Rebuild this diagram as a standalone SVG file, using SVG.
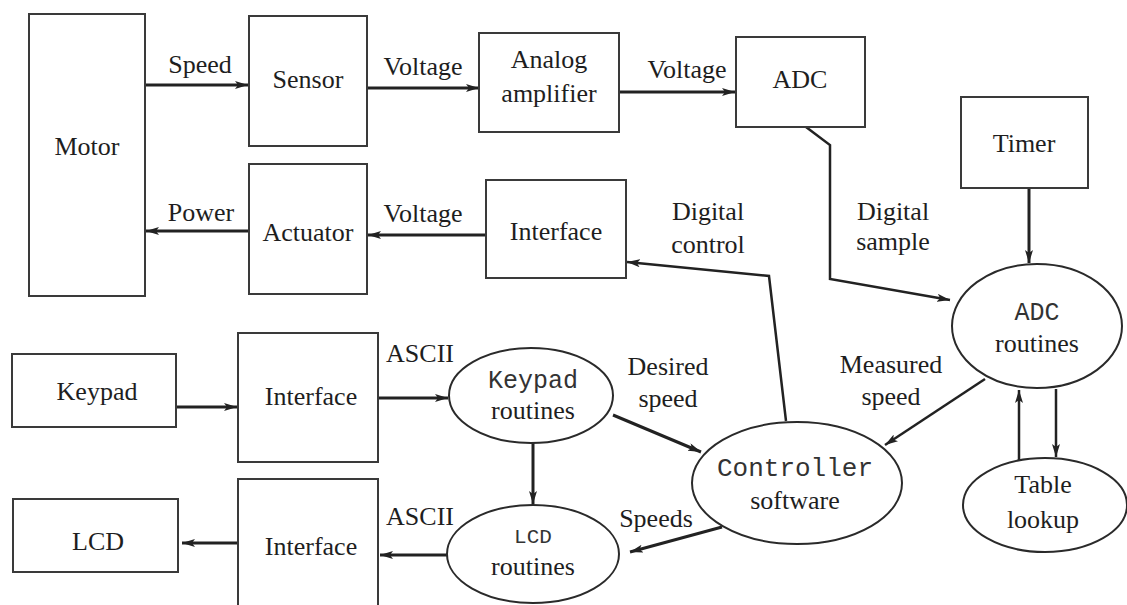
<svg xmlns="http://www.w3.org/2000/svg" width="1127" height="605" viewBox="0 0 1127 605">
<defs>
<style>
.box{fill:#fff;stroke:#3a3a3a;stroke-width:2}
.ell{fill:#fff;stroke:#2a2a2a;stroke-width:2}
.t{font-family:"Liberation Serif","Times New Roman",serif;font-size:26px;fill:#1e1e1e;text-anchor:middle}
.m{font-family:"Liberation Mono","Courier New",monospace;font-size:25px;fill:#333;text-anchor:middle}
.c{fill:none;stroke:#222;stroke-width:3;marker-end:url(#ah)}
.c2{fill:none;stroke:#222;stroke-width:2.5;marker-end:url(#ah)}
</style>
<marker id="ah" viewBox="0 0 13 8" refX="13" refY="4" markerWidth="13" markerHeight="8" markerUnits="userSpaceOnUse" orient="auto">
<path d="M0,0 L13,4 L0,8 L3,4 z" fill="#222"/>
</marker>
</defs>
<rect width="1127" height="605" fill="#fff"/>

<g id="connectors">
<path class="c" d="M145,85 H248"/>
<path class="c" d="M367,88 H479"/>
<path class="c" d="M619,92 H735"/>
<path class="c" d="M249,231 H146"/>
<path class="c" d="M486,235 H368"/>
<path class="c2" d="M806,127 L830,145 L830,279 L950,300"/>
<path class="c2" d="M786,421 L769,276 L627,262"/>
<path class="c" d="M1029,188 V263"/>
<path class="c" d="M176,407 H237"/>
<path class="c" d="M379,398 H448"/>
<path class="c" d="M533,443 V504"/>
<path class="c" d="M613,415 L701,452"/>
<path class="c2" d="M985,379 L885,445"/>
<path class="c" d="M722,527 L630,552"/>
<path class="c" d="M238,543 H182"/>
<path class="c" d="M448,555 H380"/>
<path class="c2" d="M1019,460 V390"/>
<path class="c2" d="M1056,389 V457"/>
</g>

<g id="motor"><rect class="box" x="29" y="14" width="116" height="282"/><text class="t" x="87" y="155">Motor</text></g>
<g id="sensor"><rect class="box" x="249" y="16" width="118" height="130"/><text class="t" x="308" y="88">Sensor</text></g>
<g id="amplifier"><rect class="box" x="479" y="33" width="140" height="99"/><text class="t" x="549" y="68">Analog</text><text class="t" x="549" y="102">amplifier</text></g>
<g id="adc"><rect class="box" x="736" y="37" width="129" height="90"/><text class="t" x="800" y="88">ADC</text></g>
<g id="timer"><rect class="box" x="961" y="97" width="127" height="91"/><text class="t" x="1024" y="152">Timer</text></g>
<g id="actuator"><rect class="box" x="249" y="164" width="118" height="130"/><text class="t" x="308" y="241">Actuator</text></g>
<g id="interface-top"><rect class="box" x="486" y="180" width="140" height="98"/><text class="t" x="556" y="240">Interface</text></g>
<g id="adc-routines"><ellipse class="ell" cx="1037" cy="326" rx="85" ry="62"/><text class="m" x="1037" y="320">ADC</text><text class="t" x="1037" y="352">routines</text></g>
<g id="keypad"><rect class="box" x="12" y="354" width="164" height="73"/><text class="t" x="97" y="400">Keypad</text></g>
<g id="interface-mid"><rect class="box" x="238" y="333" width="140" height="129"/><text class="t" x="311" y="405">Interface</text></g>
<g id="keypad-routines"><ellipse class="ell" cx="531" cy="395.5" rx="82" ry="47.5"/><text class="m" x="533" y="388">Keypad</text><text class="t" x="533" y="419">routines</text></g>
<g id="controller"><ellipse class="ell" cx="797" cy="483" rx="105" ry="61"/><text class="m" x="795" y="476" style="font-size:26px">Controller</text><text class="t" x="795" y="509">software</text></g>
<g id="table-lookup"><ellipse class="ell" cx="1045" cy="505" rx="82" ry="47"/><text class="t" x="1043" y="493">Table</text><text class="t" x="1043" y="528">lookup</text></g>
<g id="lcd"><rect class="box" x="13" y="499" width="165" height="73"/><text class="t" x="98" y="550">LCD</text></g>
<g id="interface-bottom"><rect class="box" x="238" y="479" width="140" height="130"/><text class="t" x="311" y="555">Interface</text></g>
<g id="lcd-routines"><ellipse class="ell" cx="533" cy="554" rx="86" ry="49"/><text class="m" x="533" y="543" style="font-size:21px">LCD</text><text class="t" x="533" y="575">routines</text></g>

<g id="labels">
<text class="t" x="200" y="73">Speed</text>
<text class="t" x="423" y="75">Voltage</text>
<text class="t" x="687" y="78">Voltage</text>
<text class="t" x="201" y="221">Power</text>
<text class="t" x="423" y="222">Voltage</text>
<text class="t" x="708" y="220">Digital</text>
<text class="t" x="708" y="253">control</text>
<text class="t" x="893" y="220">Digital</text>
<text class="t" x="893" y="250">sample</text>
<text class="t" x="420" y="362">ASCII</text>
<text class="t" x="668" y="375">Desired</text>
<text class="t" x="668" y="407">speed</text>
<text class="t" x="891" y="373">Measured</text>
<text class="t" x="891" y="405">speed</text>
<text class="t" x="656" y="527">Speeds</text>
<text class="t" x="420" y="525">ASCII</text>
</g>
</svg>
